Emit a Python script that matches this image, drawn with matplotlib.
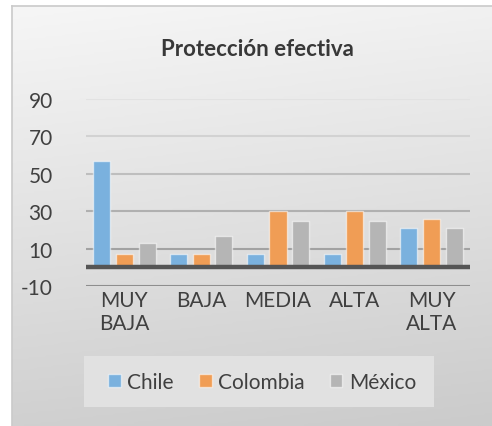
import numpy as np
import matplotlib
matplotlib.use("Agg")
import matplotlib.pyplot as plt
from matplotlib.colors import LinearSegmentedColormap
from matplotlib.patches import Patch, Rectangle

plt.rcParams['font.family'] = ['Lato', 'DejaVu Sans']

categories = ["MUY\nBAJA", "BAJA", "MEDIA", "ALTA", "MUY\nALTA"]
series_names = ["Chile", "Colombia", "México"]
chile = [57, 7, 7, 7, 21]
colombia = [7, 7, 30, 30, 26]
mexico = [13, 17, 25, 25, 21]
y_ticks = [-10, 10, 30, 50, 70, 90]

colors = ["#7AB1DE", "#F09D55", "#B5B5B5"]
grid_colors = ["#8e8e8e", "#a2a2a2", "#b0b0b0", "#bebebe", "#d2d2d2", "#e2e2e2"]
text_color = "#404040"

W, H = 492, 427
fig = plt.figure(figsize=(W / 100, H / 100), dpi=100)
fig.patch.set_facecolor("white")

# chart area with soft vertical gradient
bg = fig.add_axes([12 / W, 0, 1 - 12 / W, 1 - 7 / H])
yy, xx = np.mgrid[0:1:200j, 0:1:200j]
grad = 0.88 * yy + 0.12 * xx
cmap = LinearSegmentedColormap.from_list("bg", ["#f6f6f6", "#cbcbcb"])
bg.imshow(grad, cmap=cmap, aspect="auto", extent=[0, 1, 0, 1], origin="upper", vmin=0, vmax=1)
bg.set_xticks([])
bg.set_yticks([])
for side in ["right", "bottom"]:
    bg.spines[side].set_visible(False)
for side in ["top", "left"]:
    bg.spines[side].set_color("#cacaca")
    bg.spines[side].set_linewidth(1.2)

ax = fig.add_axes([86 / W, 1 - 287 / H, (470 - 86) / W, (287 - 100) / H])
ax.set_facecolor("none")
ax.set_xlim(-0.5, len(categories) - 0.5)
ax.set_ylim(-10, 90)

for t, c in zip(y_ticks, grid_colors):
    ax.axhline(t, color=c, linewidth=1.5, zorder=1)

x = np.arange(len(categories))
step = 0.295
width = 0.222
for i, (vals, col, name) in enumerate(zip([chile, colombia, mexico], colors, series_names)):
    ax.bar(x + (i - 1) * step, vals, width=width, color=col,
           edgecolor=(1, 1, 1, 0.55), linewidth=1.0, zorder=2, label=name)

ax.axhline(0, color="#555555", linewidth=3.2, zorder=3)

ax.set_yticks(y_ticks)
ax.set_yticklabels([str(t) for t in y_ticks])
ax.set_xticks(x)
ax.set_xticklabels(categories, linespacing=1.15)
ax.tick_params(axis="y", length=0, pad=24, labelsize=15, labelcolor=text_color)
ax.tick_params(axis="x", length=0, pad=3, labelsize=15, labelcolor=text_color)
for s in ax.spines.values():
    s.set_visible(False)

fig.text(257 / W, 1 - 50 / H, "Protección efectiva", ha="center", va="center",
         fontsize=16, fontweight="bold", color="#383838")

# legend box
fig.patches.append(Rectangle((84 / W, 1 - 408 / H), 350 / W, 51 / H,
                             transform=fig.transFigure, facecolor="#e1e1e1",
                             edgecolor="none", zorder=1))
handles = [Patch(facecolor=c, edgecolor=(1, 1, 1, 0.55)) for c in colors]
fig.legend(handles, series_names, loc="center", bbox_to_anchor=(262 / W, 1 - 383 / H),
           ncol=3, frameon=False, fontsize=15, handlelength=0.62, handleheight=0.62,
           handletextpad=0.3, columnspacing=1.2, labelcolor=text_color)

fig.savefig("out.png", dpi=100)
